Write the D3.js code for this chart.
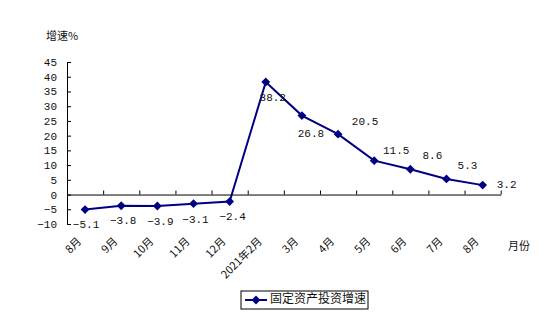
<!DOCTYPE html>
<html>
<head>
<meta charset="utf-8">
<script src="https://cdn.jsdelivr.net/npm/d3@7"></script>
<style>
  html, body { margin: 0; padding: 0; background: #fff; }
  svg { display: block; }
  text { font-family: "Liberation Mono", "Noto Sans CJK SC", monospace; fill: #111; }
  .cjk { font-family: "Noto Sans CJK SC", sans-serif; }
</style>
</head>
<body>
<svg id="chart" width="552" height="333"></svg>
<script>
// Monthly growth of fixed-asset investment (%)
const months = ["8月", "9月", "10月", "11月", "12月", "2021年2月", "3月", "4月", "5月", "6月", "7月", "8月"];
const growth = [-5.1, -3.8, -3.9, -3.1, -2.4, 38.2, 26.8, 20.5, 11.5, 8.6, 5.3, 3.2];
const yTicks = [-10, -5, 0, 5, 10, 15, 20, 25, 30, 35, 40, 45];
const seriesName = "固定资产投资增速";
const yTitle = "增速%";
const xTitle = "月份";

// label placement relative to each marker (dx, dy)
const labelOffsets = [
  [1, 16], [2, 15], [3, 16], [2, 16], [3, 15],
  [7, 16], [9, 18], [27, -12], [22, -10], [22, -13], [21, -13], [24, 0]
];

const svg = d3.select("#chart");
const plotLeft = 67, plotRight = 500.7, plotTop = 62, plotBottom = 224;
const navy = "#000080";

const x = d3.scaleBand().domain(d3.range(months.length)).range([plotLeft, plotRight]);
const y = d3.scaleLinear().domain([-10, 45]).range([plotBottom, plotTop]);
const cx = i => x(i) + x.bandwidth() / 2;

// y axis
const yAxis = svg.append("g")
  .attr("transform", `translate(${plotLeft},0)`)
  .call(d3.axisLeft(y).tickValues(yTicks).tickSizeInner(-4).tickSizeOuter(0).tickPadding(10).tickFormat(d3.format("d")));
yAxis.select(".domain").attr("stroke", "#000");
yAxis.selectAll(".tick line").attr("stroke", "#000");
yAxis.selectAll(".tick text").attr("font-size", 11).attr("fill", "#111").attr("font-family", "Liberation Mono");

// x axis on the zero line
const xAxis = svg.append("g")
  .attr("transform", `translate(0,${y(0)})`)
  .call(d3.axisBottom(d3.scaleLinear().domain([0, months.length]).range([plotLeft, plotRight]))
    .tickValues(d3.range(1, months.length + 1)).tickSizeInner(-4).tickSizeOuter(0).tickFormat(""));
xAxis.select(".domain").attr("stroke", "#000");
xAxis.selectAll(".tick line").attr("stroke", "#000");

// category labels, rotated
svg.append("g").selectAll("text")
  .data(months)
  .join("text")
  .attr("class", "cjk")
  .attr("font-size", 11)
  .attr("text-anchor", "end")
  .attr("transform", (d, i) => `translate(${cx(i) - 3},${242}) rotate(-45)`)
  .text(d => d);

// axis titles
svg.append("text").attr("class", "cjk").attr("font-size", 11)
  .attr("x", 46).attr("y", 40).text(yTitle);
svg.append("text").attr("class", "cjk").attr("font-size", 11)
  .attr("x", 508).attr("y", 250).text(xTitle);

// series line
const line = d3.line()
  .x((d, i) => cx(i))
  .y(d => y(d));
svg.append("path")
  .datum(growth)
  .attr("fill", "none")
  .attr("stroke", navy)
  .attr("stroke-width", 2)
  .attr("d", line);

// diamond markers
const diamond = d3.symbol().type(d3.symbolDiamond2).size(50);
svg.append("g").selectAll("path")
  .data(growth)
  .join("path")
  .attr("d", diamond)
  .attr("fill", navy)
  .attr("transform", (d, i) => `translate(${cx(i)},${y(d)})`);

// value labels
svg.append("g").selectAll("text")
  .data(growth)
  .join("text")
  .attr("font-size", 11)
  .attr("x", (d, i) => cx(i) + labelOffsets[i][0])
  .attr("y", (d, i) => y(d) + labelOffsets[i][1])
  .attr("text-anchor", "middle")
  .attr("dominant-baseline", "middle")
  .text(d => d3.format(".1f")(d));

// legend
const lg = svg.append("g").attr("transform", "translate(241,291)");
lg.append("rect").attr("width", 127).attr("height", 18)
  .attr("fill", "#fff").attr("stroke", "#000").attr("stroke-width", 1);
lg.append("line").attr("x1", 4).attr("x2", 26).attr("y1", 9).attr("y2", 9)
  .attr("stroke", navy).attr("stroke-width", 2);
lg.append("path").attr("d", diamond).attr("fill", navy).attr("transform", "translate(15,9)");
lg.append("text").attr("class", "cjk").attr("font-size", 12)
  .attr("x", 29).attr("y", 9).attr("dominant-baseline", "middle").text(seriesName);
</script>
</body>
</html>
